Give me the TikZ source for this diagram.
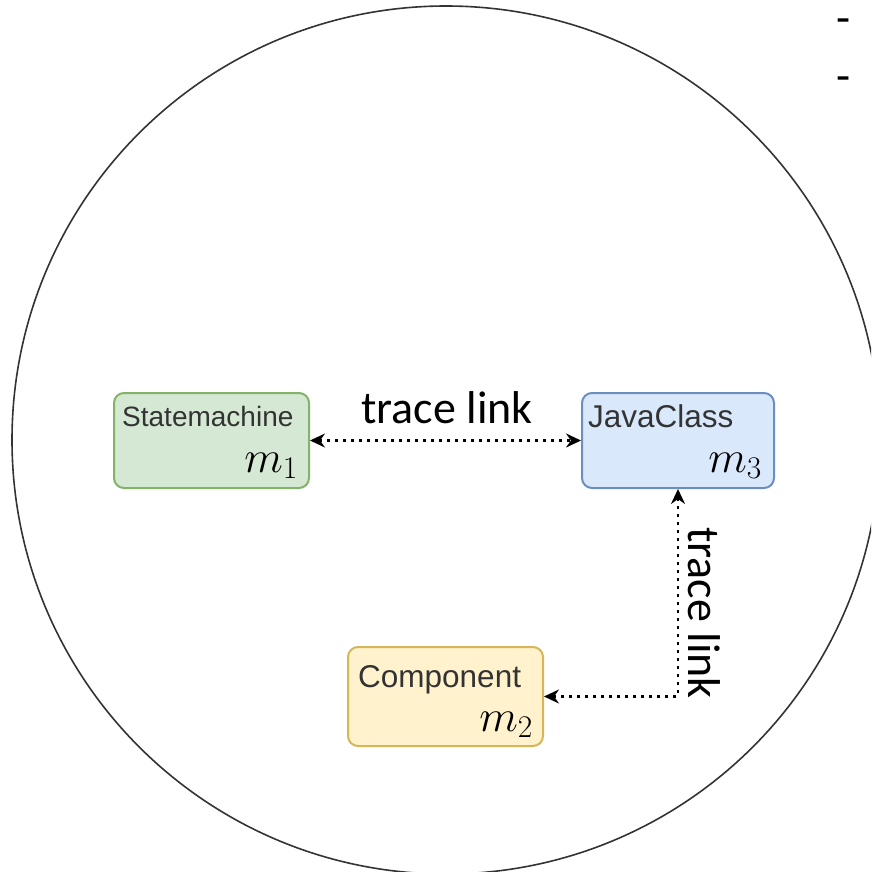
\RequirePackage{fix-cm}
\documentclass[tikz,border=0pt]{standalone}
\usepackage{fontspec}
\setmainfont{Liberation Sans}
\newfontfamily\calfont{Carlito}
\usetikzlibrary{arrows.meta}

\definecolor{smfill}{HTML}{D5E8D4}
\definecolor{smline}{HTML}{82B366}
\definecolor{jcfill}{HTML}{DAE8FC}
\definecolor{jcline}{HTML}{6C8EBF}
\definecolor{cpfill}{HTML}{FFF2CC}
\definecolor{cpline}{HTML}{D6B656}
\definecolor{titlegray}{HTML}{333333}

\tikzset{
  modelbox/.style={draw, line width=2pt, rounded corners=10pt, inner sep=0pt},
  boxtitle/.style={anchor=base west, inner sep=0pt, text=titlegray},
  boxsym/.style={anchor=base east, inner sep=0pt, font=\fontsize{45}{54}\selectfont},
  tracelink/.style={line width=2.5pt, dash pattern=on 3pt off 5pt,
    {Stealth[length=15pt,width=14pt,inset=5pt]}-{Stealth[length=15pt,width=14pt,inset=5pt]}},
  linklabel/.style={inner sep=0pt, font=\calfont\fontsize{46}{55}\selectfont},
  bulletdash/.style={anchor=north west, inner sep=0pt, font=\calfont\fontsize{46}{55}\selectfont}
}

\begin{document}
\begin{tikzpicture}[x=1pt, y=-1pt]
  \useasboundingbox (0,0) rectangle (871,872);

  % enclosing circle
  \begin{scope}
    \clip (0,0) rectangle (871,872);
    \draw[line width=1.6pt, black!80] (446,440) circle[radius=434];
  \end{scope}

  % list markers at the upper right
  \node[bulletdash] (d1) at (836,19) {-};
  \node[bulletdash] (d2) at (836,77) {-};

  % models
  \node[modelbox, fill=smfill, draw=smline, minimum width=195pt, minimum height=95pt] (sm) at (211.5,440.5) {};
  \node[boxtitle, font=\fontsize{28}{34}\selectfont] (smt) at (122,426) {Statemachine};
  \node[boxsym] (smm) at (298,472) {$m_1$};

  \node[modelbox, fill=jcfill, draw=jcline, minimum width=192pt, minimum height=95pt] (jc) at (678,440.5) {};
  \node[boxtitle, font=\fontsize{31.5}{38}\selectfont] (jct) at (588,427) {JavaClass};
  \node[boxsym] (jcm) at (762,472) {$m_3$};

  \node[modelbox, fill=cpfill, draw=cpline, minimum width=195pt, minimum height=99pt] (cp) at (445.5,696.5) {};
  \node[boxtitle, font=\fontsize{31.5}{38}\selectfont] (cpt) at (358,687) {Component};
  \node[boxsym] (cpm) at (533,731) {$m_2$};

  % trace links
  \draw[tracelink] (sm.east) -- (jc.west);
  \node[linklabel, anchor=base] (l1) at (447,423) {trace link};

  \draw[tracelink] (cp.east) -| (jc.south);
  \node[linklabel, rotate=-90, anchor=base] (l2) at (688,613) {trace link};
\end{tikzpicture}
\end{document}
